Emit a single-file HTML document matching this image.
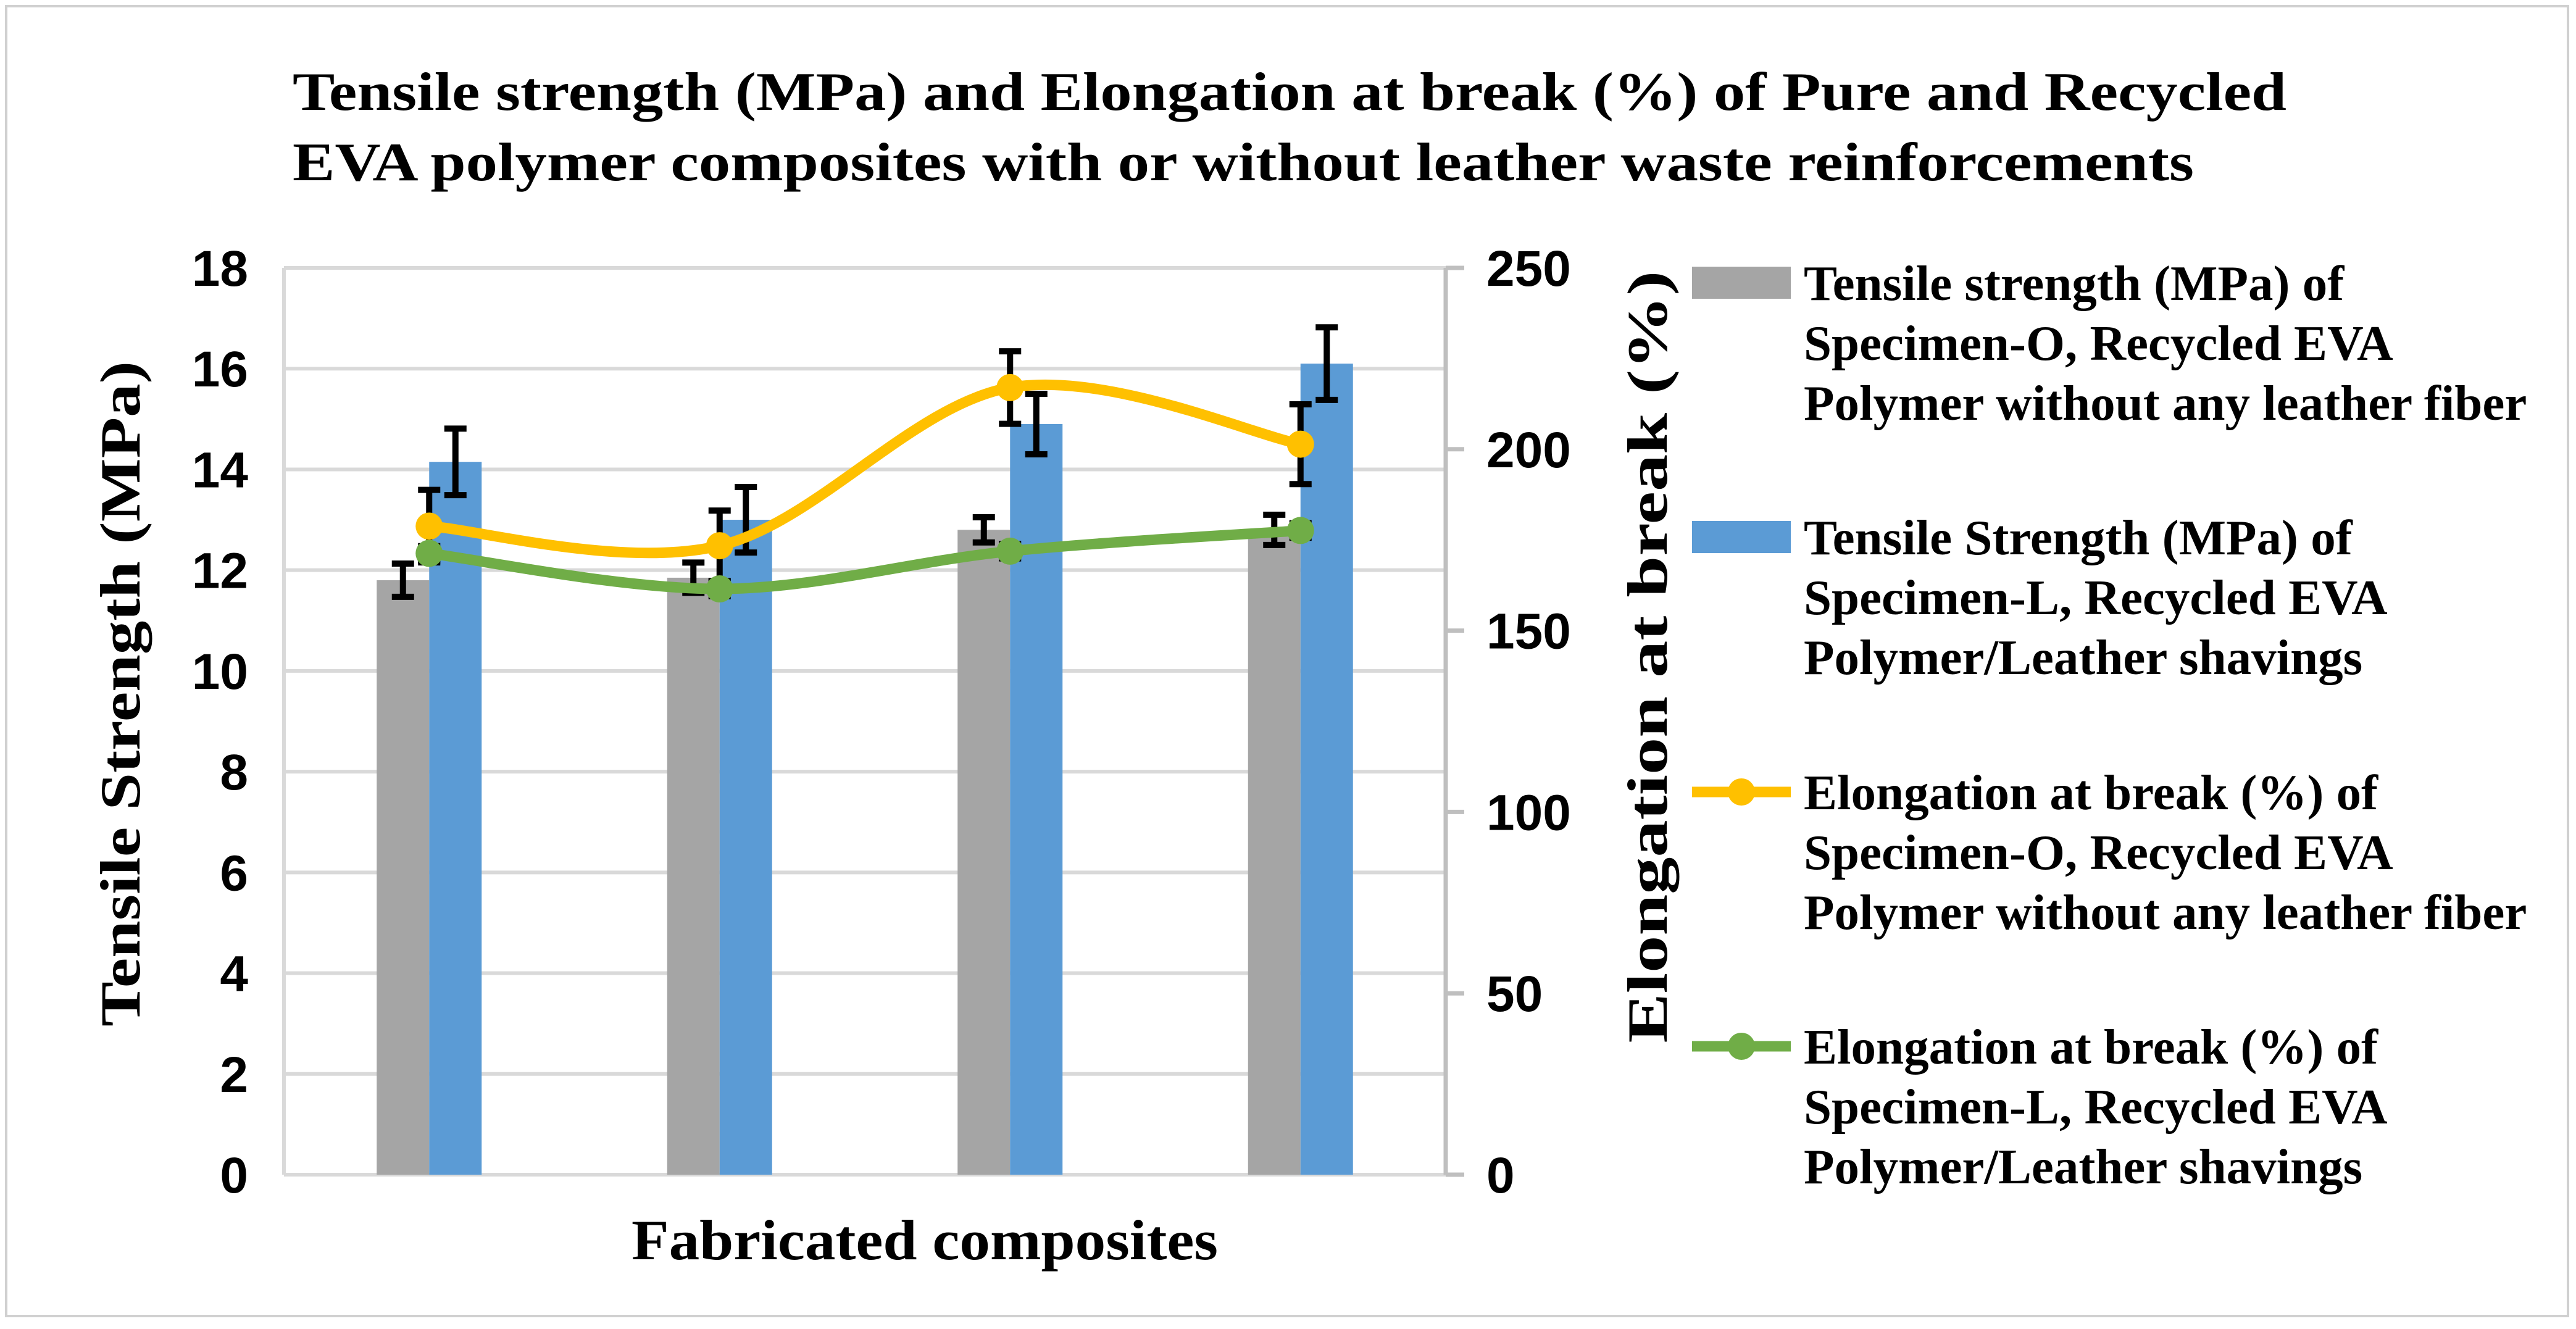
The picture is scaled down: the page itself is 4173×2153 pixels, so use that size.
<!DOCTYPE html>
<html><head><meta charset="utf-8"><style>html,body{margin:0;padding:0;background:#fff}svg{display:block}</style></head>
<body>
<svg id="chart" xmlns="http://www.w3.org/2000/svg" width="4173" height="2153" viewBox="0 0 4173 2153">
<rect x="10" y="10" width="4150" height="2122" fill="#fff" stroke="#d0d0d0" stroke-width="4"/>
<g font-family="'Liberation Serif', serif" font-weight="bold" fill="#000">
<text x="474" y="178" font-size="88" textLength="3230" lengthAdjust="spacingAndGlyphs">Tensile strength (MPa) and Elongation at break (%) of Pure and Recycled</text>
<text x="474" y="292" font-size="88" textLength="3080" lengthAdjust="spacingAndGlyphs">EVA polymer composites with or without leather waste reinforcements</text>
<text transform="translate(226,1124) rotate(-90)" text-anchor="middle" font-size="92" textLength="1078" lengthAdjust="spacingAndGlyphs">Tensile Strength (MPa)</text>
<text transform="translate(2700,1064) rotate(-90)" text-anchor="middle" font-size="92" textLength="1251" lengthAdjust="spacingAndGlyphs">Elongation at break (%)</text>
<text x="1498" y="2040" text-anchor="middle" font-size="92" textLength="950" lengthAdjust="spacingAndGlyphs">Fabricated composites</text>
</g>
<g id="grid"></g><g id="bars"></g><g id="lines"></g><g id="axes"></g><g id="legend"></g>
</svg>
<script>
const categories = ['C1','C2','C3','C4'];
const tensileO = [11.8, 11.85, 12.8, 12.8];
const tensileOErr = [0.33, 0.3, 0.25, 0.3];
const tensileL = [14.15, 13.0, 14.9, 16.1];
const tensileLErr = [0.66, 0.65, 0.6, 0.72];
const elongO = [178.8, 173.4, 217, 201.4];
const elongOErr = [10, 9.7, 10, 11];
const elongL = [171.3, 161.5, 171.9, 177.6];
const elongLErr = [2, 2, 2, 2];
const leftTicks = [0,2,4,6,8,10,12,14,16,18];
const rightTicks = [0,50,100,150,200,250];

const NS='http://www.w3.org/2000/svg';
const X0=460, X1=2342, Y0=1903, YT=434;
const catW=(X1-X0)/categories.length, barW=85;
const yL=v=>Y0-(v/18)*(Y0-YT);
const yR=v=>Y0-(v/250)*(Y0-YT);
const cx=i=>X0+catW*(i+0.5);
function mk(tag,attrs,parent){const e=document.createElementNS(NS,tag);for(const k in attrs)e.setAttribute(k,attrs[k]);parent.appendChild(e);return e;}
const grid=document.getElementById('grid'),bars=document.getElementById('bars'),lines=document.getElementById('lines'),axes=document.getElementById('axes'),legend=document.getElementById('legend');

leftTicks.forEach(t=>{
  const l=mk('line',{x1:X0,x2:X1,y1:yL(t),y2:yL(t),stroke:'#d9d9d9','stroke-width':6},grid);
  
  
  const tx=mk('text',{x:402,y:yL(t)+29,'text-anchor':'end','font-size':82,'font-weight':'bold','font-family':"'Liberation Sans', sans-serif"},axes);
  tx.textContent=t;
  
  
});
const la=mk('line',{x1:X0,x2:X0,y1:YT,y2:Y0,stroke:'#d9d9d9','stroke-width':6},axes);


const ra=mk('line',{x1:X1,x2:X1,y1:YT,y2:Y0,stroke:'#bfbfbf','stroke-width':7},axes);


rightTicks.forEach(t=>{
  const tk=mk('line',{x1:X1,x2:X1+30,y1:yR(t),y2:yR(t),stroke:'#bfbfbf','stroke-width':7},axes);
  
  
  const tx=mk('text',{x:2408,y:yR(t)+29,'font-size':82,'font-weight':'bold','font-family':"'Liberation Sans', sans-serif"},axes);
  tx.textContent=t;
  
  
});

function errBar(x,yTop,yBot,parent){
  const g=mk('g',{stroke:'#000','stroke-width':10},parent);
  mk('line',{x1:x,x2:x,y1:yTop,y2:yBot},g);
  mk('line',{x1:x-18,x2:x+18,y1:yTop,y2:yTop},g);
  mk('line',{x1:x-18,x2:x+18,y1:yBot,y2:yBot},g);
  return g;
}
categories.forEach((c,i)=>{
  const b1=mk('rect',{x:cx(i)-barW,y:yL(tensileO[i]),width:barW,height:Y0-yL(tensileO[i]),fill:'#a5a5a5'},bars);
  
  
  const b2=mk('rect',{x:cx(i),y:yL(tensileL[i]),width:barW,height:Y0-yL(tensileL[i]),fill:'#5b9bd5'},bars);
  
  
  const e1=errBar(cx(i)-barW/2,yL(tensileO[i]+tensileOErr[i]),yL(tensileO[i]-tensileOErr[i]),bars);
  
  
  const e2=errBar(cx(i)+barW/2,yL(tensileL[i]+tensileLErr[i]),yL(tensileL[i]-tensileLErr[i]),bars);
  
  
});

function smooth(pts){
  let d='M'+pts[0][0]+','+pts[0][1];
  for(let i=0;i<pts.length-1;i++){
    const p0=pts[i-1]||pts[i],p1=pts[i],p2=pts[i+1],p3=pts[i+2]||p2,t=6;
    d+=' C'+(p1[0]+(p2[0]-p0[0])/t)+','+(p1[1]+(p2[1]-p0[1])/t)+' '+(p2[0]-(p3[0]-p1[0])/t)+','+(p2[1]-(p3[1]-p1[1])/t)+' '+p2[0]+','+p2[1];
  }
  return d;
}
function series(vals,errs,color,name){
  const pts=vals.map((v,i)=>[cx(i),yR(v)]);
  vals.forEach((v,i)=>{
    const e=errBar(cx(i),yR(v+errs[i]),yR(v-errs[i]),lines);
    
    
  });
  const p=mk('path',{d:smooth(pts),fill:'none',stroke:color,'stroke-width':17,'stroke-linecap':'round'},lines);
  
  
  pts.forEach(q=>{
    const m=mk('ellipse',{cx:q[0],cy:q[1],rx:22,ry:22,fill:color},lines);
    
    
  });
}
series(elongO,elongOErr,'#ffc000','elongation-o');
series(elongL,elongLErr,'#70ad47','elongation-l');

const legTexts=[
 ['Tensile strength (MPa) of','Specimen-O, Recycled EVA','Polymer without any leather fiber'],
 ['Tensile Strength (MPa) of','Specimen-L, Recycled EVA','Polymer/Leather shavings'],
 ['Elongation at break (%) of','Specimen-O, Recycled EVA','Polymer without any leather fiber'],
 ['Elongation at break (%) of','Specimen-L, Recycled EVA','Polymer/Leather shavings']];
const legColors=['#a5a5a5','#5b9bd5','#ffc000','#70ad47'];
const legY=[458,870,1283,1695];
legTexts.forEach((lines3,k)=>{
  const g=mk('g',{},legend);
  
  
  const y=legY[k];
  if(k<2){ mk('rect',{x:2741,y:y-26,width:160,height:52,fill:legColors[k]},g); }
  else { mk('line',{x1:2741,x2:2901,y1:y,y2:y,stroke:legColors[k],'stroke-width':17},g);
         mk('circle',{cx:2821,cy:y,r:22,fill:legColors[k]},g); }
  lines3.forEach((s,j)=>{
    const t=mk('text',{x:2922,y:y+28+j*97,'font-size':81,'font-weight':'bold','font-family':"'Liberation Serif', serif"},g);
    t.textContent=s;
  });
});
</script>
</body></html>
